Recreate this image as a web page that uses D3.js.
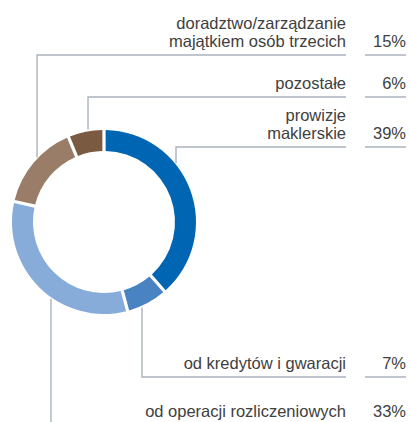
<!DOCTYPE html>
<html>
<head>
<meta charset="utf-8">
<script src="https://cdn.jsdelivr.net/npm/d3@7"></script>
<style>
  body { margin: 0; background: #fff; }
  text { font-family: "Liberation Sans", Arial, sans-serif; font-size: 16.5px; fill: #404040; }
</style>
</head>
<body>
<svg id="chart"></svg>
<script>
// data
var categories = ["prowizje|maklerskie", "od kredytów i gwaracji", "od operacji rozliczeniowych", "doradztwo/zarządzanie|majątkiem osób trzecich", "pozostałe"];
var shares = [39, 7, 33, 15, 6];
var colors = ["#0066b3", "#4a83c2", "#87acd9", "#9a7d69", "#7a5a41"];

// layout: where each leader line meets the ring (deg, clockwise from top) and its label line y
var leaderAngle = [51.5, 155.6, 215.2, 313.3, 350];
var labelLineY = [147, 377, 425, 55, 97];

var width = 410, height = 422;
var cx = 104, cy = 222, rOuter = 92, rInner = 71;
var textRight = 346, pctLeft = 365, pctRight = 406;

var svg = d3.select("#chart")
  .attr("width", width)
  .attr("height", height);

var pie = d3.pie().sort(null).value(function(d) { return d; }).padAngle(0.028);
var arc = d3.arc().innerRadius(rInner).outerRadius(rOuter);

var g = svg.append("g")
  .attr("transform", "translate(" + cx + "," + cy + ")");

g.selectAll("path")
  .data(pie(shares))
  .enter().append("path")
  .attr("d", arc)
  .attr("fill", function(d, i) { return colors[i]; });

// leader lines + labels
var lines = svg.append("g").attr("class", "leaders");
var lineColor = "#aab3bc";

categories.forEach(function(c, i) {
  var a = leaderAngle[i] * Math.PI / 180;
  var x = cx + rOuter * Math.sin(a);
  var yEdge = cy - (rOuter + 2) * Math.cos(a);
  var ly = labelLineY[i];

  lines.append("path")
    .attr("d", "M" + x + "," + yEdge + "V" + ly + "H" + textRight)
    .attr("fill", "none")
    .attr("stroke", lineColor)
    .attr("stroke-width", 1.4);

  lines.append("line")
    .attr("x1", pctLeft).attr("x2", pctRight)
    .attr("y1", ly).attr("y2", ly)
    .attr("stroke", lineColor)
    .attr("stroke-width", 1.4);

  var parts = c.split("|");
  var base = ly - 8;
  parts.forEach(function(p, j) {
    svg.append("text")
      .attr("x", textRight)
      .attr("y", base - (parts.length - 1 - j) * 18)
      .attr("text-anchor", "end")
      .text(p);
  });

  svg.append("text")
    .attr("x", pctRight)
    .attr("y", base)
    .attr("text-anchor", "end")
    .text(shares[i] + "%");
});
</script>
</body>
</html>
